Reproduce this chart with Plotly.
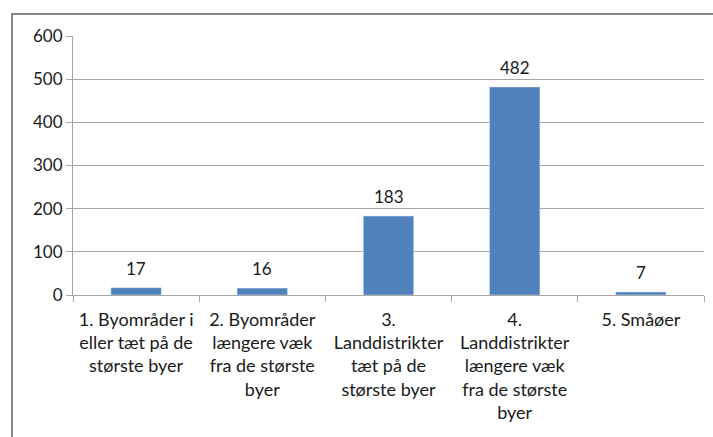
import plotly.graph_objects as go

categories = [
    "1. Byområder i<br>eller tæt på de<br>største byer",
    "2. Byområder<br>længere væk<br>fra de største<br>byer",
    "3.<br>Landdistrikter<br>tæt på de<br>største byer",
    "4.<br>Landdistrikter<br>længere væk<br>fra de største<br>byer",
    "5. Småøer",
]
values = [17, 16, 183, 482, 7]
y_ticks = [0, 100, 200, 300, 400, 500, 600]

FONT = "Lato, 'Open Sans', sans-serif"
BAR = "#4F81BD"
GRID = "#a6a6a6"
TXT = "#1a1a1a"

fig = go.Figure(go.Bar(
    x=categories, y=values,
    marker_color=BAR, width=0.4,
    hoverinfo="x+y",
))

# value labels sit a little higher above the bars than plotly's own "outside" text
for cat, v in zip(categories, values):
    fig.add_annotation(
        x=cat, y=v, text=str(v), showarrow=False,
        yanchor="bottom", yshift=7,
        font=dict(size=17, color=TXT),
    )

# outer chart frame (cropped on right and bottom as in the reference)
fig.add_shape(
    type="rect", xref="paper", yref="paper",
    x0=-0.0967, x1=1.03, y0=-0.62, y1=1.085,
    line=dict(color="#868686", width=2), layer="below",
)

fig.update_layout(
    width=713, height=437,
    margin=dict(l=73, r=9, t=36, b=142),
    paper_bgcolor="white", plot_bgcolor="white",
    font=dict(family=FONT, size=16, color=TXT),
    showlegend=False,
)
fig.update_xaxes(
    showline=True, linecolor=GRID, linewidth=1,
    ticks="outside", tickson="boundaries", ticklen=6, tickcolor=GRID,
    tickfont=dict(size=18), tickangle=0, ticklabelstandoff=8,
)
fig.update_yaxes(
    range=[0, 600], tickvals=y_ticks,
    showgrid=True, gridcolor=GRID, gridwidth=1,
    showline=True, linecolor=GRID, linewidth=1,
    ticks="outside", ticklen=6, tickcolor=GRID,
    tickfont=dict(size=17), zeroline=False,
)

fig.write_html(
    "out.html",
    config={"displayModeBar": False},
    post_script="document.body.style.margin='0';",
)
